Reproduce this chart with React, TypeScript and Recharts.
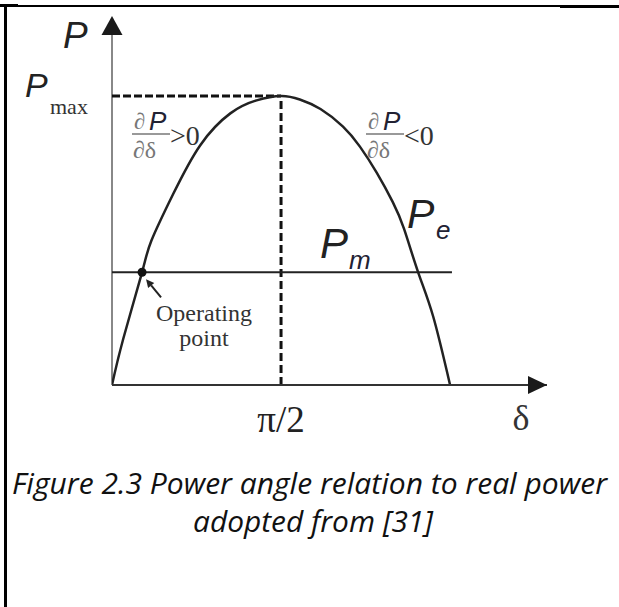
import React from 'react';
import { LineChart, Line, XAxis, YAxis, ReferenceLine, ReferenceDot } from 'recharts';

// load angle δ in degrees, electrical power P per unit of Pmax, along the Pe curve
const DELTA = [0, 6, 16, 21, 32.5, 47, 63, 77, 90, 100, 111, 123, 132, 141, 149.5, 155.5, 163, 171, 180];
const POWER = [0, 0.16, 0.39, 0.5, 0.66, 0.83, 0.94, 0.985, 1, 0.988, 0.955, 0.894, 0.825, 0.734, 0.633, 0.54, 0.39, 0.237, 0];

const P_MAX = 1;
const P_MECH = 0.39;
const DELTA_OP = 16;
const DELTA_PM_END = 181;

const X_TICKS = [90];
const X_TICK_LABELS = ['π/2'];
const X_END = 231.6;
const Y_END = 1.277;

const data = DELTA.map((d, i) => ({ delta: d, p: POWER[i] }));

const SANS = '"Liberation Sans", Arial, sans-serif';
const SERIF = '"Liberation Serif", "Times New Roman", serif';

const UpArrow = (props: any) => {
  const { cx, cy } = props;
  return <polygon points={`${cx},${cy} ${cx - 10.5},${cy + 19} ${cx + 10.5},${cy + 19}`} fill="#1a1a1a" />;
};

const RightArrow = (props: any) => {
  const { cx, cy } = props;
  return <polygon points={`${cx},${cy} ${cx - 19},${cy - 9} ${cx - 19},${cy + 9}`} fill="#1a1a1a" />;
};

// small pointer from the "Operating point" note up to the dot
const Pointer = (props: any) => {
  const { cx, cy } = props;
  const tx = cx + 4, ty = cy + 7;
  const sx = cx + 19, sy = cy + 25;
  const len = Math.hypot(sx - tx, sy - ty);
  const ux = (sx - tx) / len, uy = (sy - ty) / len;
  const bx = tx + ux * 8, by = ty + uy * 8;
  return (
    <g>
      <line x1={sx} y1={sy} x2={bx} y2={by} stroke="#222" strokeWidth={2} />
      <polygon
        points={`${tx},${ty} ${bx - uy * 4},${by + ux * 4} ${bx + uy * 4},${by - ux * 4}`}
        fill="#222"
      />
    </g>
  );
};

const Derivative = ({ x, sign }: { x: number; sign: string }) => (
  <g>
    <text x={x + 2} y={129} fontFamily={SERIF} fontSize={23} fill="#777">∂</text>
    <text x={x + 17} y={130} fontFamily={SANS} fontStyle="italic" fontSize={26} fill="#223">P</text>
    <line x1={x} y1={134} x2={x + 38} y2={134} stroke="#777" strokeWidth={1.5} />
    <text x={x + 1} y={158} fontFamily={SERIF} fontSize={24} fill="#777">∂δ</text>
    <text x={x + 38} y={145} fontFamily={SERIF} fontSize={28} fill="#333">{sign}</text>
  </g>
);

const Annotations = () => (
  <svg width={619} height={607} style={{ position: 'absolute', left: 0, top: 0, pointerEvents: 'none' }}>
    <text x={63} y={48} fontFamily={SANS} fontStyle="italic" fontSize={37} fill="#222">P</text>
    <text x={25} y={97} fontFamily={SANS} fontStyle="italic" fontSize={34} fill="#222">P</text>
    <text x={50} y={114} fontFamily={SERIF} fontSize={22} fill="#333">max</text>
    <Derivative x={132} sign=">0" />
    <Derivative x={366} sign="<0" />
    <text x={407} y={228} fontFamily={SANS} fontStyle="italic" fontSize={41} fill="#222">P</text>
    <text x={436} y={239} fontFamily={SANS} fontStyle="italic" fontSize={26} fill="#223">e</text>
    <text x={320} y={258} fontFamily={SANS} fontStyle="italic" fontSize={42} fill="#222">P</text>
    <text x={349} y={269} fontFamily={SANS} fontStyle="italic" fontSize={26} fill="#223">m</text>
    <text x={204} y={321} textAnchor="middle" fontFamily={SERIF} fontSize={24} fill="#333">Operating</text>
    <text x={204} y={346} textAnchor="middle" fontFamily={SERIF} fontSize={24} fill="#333">point</text>
    <text x={521} y={430} textAnchor="middle" fontFamily={SERIF} fontSize={36} fill="#333">δ</text>
    <text x={12} y={494} textLength={595} lengthAdjust="spacingAndGlyphs" fontFamily='"Open Sans", sans-serif' fontStyle="italic" fontSize={29} fill="#111">
      Figure 2.3 Power angle relation to real power
    </text>
    <text x={193} y={532} textLength={240} lengthAdjust="spacingAndGlyphs" fontFamily='"Open Sans", sans-serif' fontStyle="italic" fontSize={29} fill="#111">
      adopted from [31]
    </text>
  </svg>
);

const App: React.FC = () => {
  return (
    <div style={{ position: 'absolute', left: 0, top: 0, width: 619, height: 607, background: '#fff' }}>
      {/* table cell borders */}
      <div style={{ position: 'absolute', left: 0, top: 4, width: 18, height: 3, background: '#000' }} />
      <div style={{ position: 'absolute', left: 18, top: 5, width: 542, height: 2, background: '#000' }} />
      <div style={{ position: 'absolute', left: 560, top: 5, width: 59, height: 3, background: '#000' }} />
      <div style={{ position: 'absolute', left: 4, top: 5, width: 3, height: 602, background: '#000' }} />

      <LineChart
        width={619}
        height={607}
        data={data}
        margin={{ top: 16, right: 72, left: 112, bottom: 162 }}
        style={{ position: 'absolute', left: 0, top: 0 }}
      >
        <XAxis
          dataKey="delta"
          type="number"
          domain={[0, X_END]}
          ticks={X_TICKS}
          tickFormatter={(v: number) => X_TICK_LABELS[X_TICKS.indexOf(v)]}
          tickLine={false}
          tickMargin={15}
          tick={{ fontSize: 37, fontFamily: SERIF, fill: '#222' }}
          axisLine={{ stroke: '#333', strokeWidth: 2 }}
          height={60}
          allowDataOverflow
        />
        <YAxis type="number" domain={[0, Y_END]} width={0} hide allowDataOverflow />
        {/* P axis */}
        <ReferenceLine
          segment={[{ x: 0, y: 0 }, { x: 0, y: Y_END - 0.05 }]}
          stroke="#888"
          strokeWidth={2}
          ifOverflow="visible"
        />
        <ReferenceLine
          segment={[{ x: 0, y: P_MAX }, { x: 90, y: P_MAX }]}
          stroke="#111"
          strokeWidth={3}
          strokeDasharray="8 3"
        />
        <ReferenceLine
          segment={[{ x: 90, y: 0 }, { x: 90, y: P_MAX }]}
          stroke="#111"
          strokeWidth={3}
          strokeDasharray="8 4"
        />
        <ReferenceLine
          segment={[{ x: 0, y: P_MECH }, { x: DELTA_PM_END, y: P_MECH }]}
          stroke="#222"
          strokeWidth={2}
        />
        <Line
          dataKey="p"
          type="natural"
          stroke="#222"
          strokeWidth={2.5}
          dot={false}
          isAnimationActive={false}
        />
        <ReferenceDot x={DELTA_OP} y={P_MECH} r={4.5} fill="#111" stroke="none" />
        <ReferenceDot x={DELTA_OP} y={P_MECH} r={0} shape={Pointer} ifOverflow="visible" />
        <ReferenceDot x={0} y={Y_END} r={0} shape={UpArrow} ifOverflow="visible" />
        <ReferenceDot x={X_END} y={0} r={0} shape={RightArrow} ifOverflow="visible" />
      </LineChart>
      <Annotations />
    </div>
  );
};

export default App;
